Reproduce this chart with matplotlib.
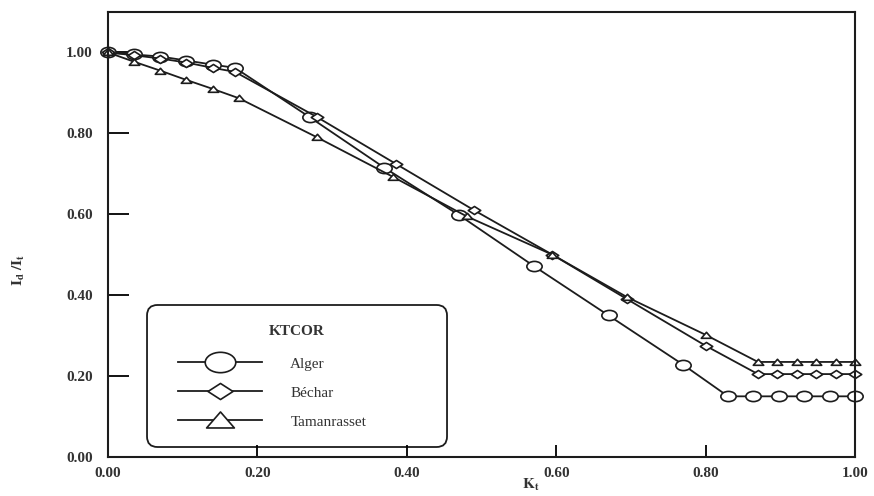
import numpy as np
import matplotlib.pyplot as plt
from matplotlib.path import Path
from matplotlib.patches import FancyBboxPatch

plt.rcParams['font.family'] = ['Liberation Serif', 'DejaVu Serif']
plt.rcParams['mathtext.fontset'] = 'stix'

# donnees
kt_alger = [0.0, 0.035, 0.07, 0.105, 0.14, 0.17, 0.27, 0.37, 0.47, 0.57, 0.67, 0.77,
            0.83, 0.864, 0.898, 0.932, 0.966, 1.0]
id_alger = [1.0, 0.995, 0.99, 0.98, 0.97, 0.962, 0.84, 0.715, 0.598, 0.472, 0.35, 0.228,
            0.15, 0.15, 0.15, 0.15, 0.15, 0.15]

kt_bechar = [0.0, 0.035, 0.07, 0.105, 0.14, 0.17, 0.28, 0.385, 0.49, 0.595, 0.695, 0.80,
             0.87, 0.896, 0.922, 0.948, 0.974, 1.0]
id_bechar = [1.0, 0.993, 0.985, 0.975, 0.962, 0.952, 0.84, 0.725, 0.61, 0.5, 0.39, 0.275,
             0.205, 0.205, 0.205, 0.205, 0.205, 0.205]

kt_taman = [0.0, 0.035, 0.07, 0.105, 0.14, 0.175, 0.28, 0.382, 0.48, 0.595, 0.695, 0.80,
            0.87, 0.896, 0.922, 0.948, 0.974, 1.0]
id_taman = [1.0, 0.977, 0.955, 0.932, 0.91, 0.887, 0.79, 0.692, 0.595, 0.5, 0.395, 0.302,
            0.235, 0.235, 0.235, 0.235, 0.235, 0.235]

noms = ['Alger', 'Béchar', 'Tamanrasset']
yticks = [0.0, 0.2, 0.4, 0.6, 0.8, 1.0]
xticks = [0.0, 0.2, 0.4, 0.6, 0.8, 1.0]

# marqueurs un peu ecrases comme sur l'original
cercle = Path.unit_circle()
ellipse = Path(cercle.vertices * np.array([1.5, 1.0]), cercle.codes)
losange = Path([(-1.4, 0), (0, 0.9), (1.4, 0), (0, -0.9), (-1.4, 0)], closed=True)
triangle = Path([(-1.3, -0.7), (1.3, -0.7), (0, 0.8), (-1.3, -0.7)], closed=True)

fig = plt.figure(figsize=(8.74, 4.96), dpi=100)
ax = fig.add_axes([0.1236, 0.0786, 0.8547, 0.8972])

c = '#1c1c1c'
gris = '#333333'
ax.plot(kt_alger, id_alger, color=c, lw=1.3, marker=ellipse, ms=11, mfc='white',
        mec=c, mew=1.2, label=noms[0], clip_on=False)
ax.plot(kt_bechar, id_bechar, color=c, lw=1.3, marker=losange, ms=9, mfc='white',
        mec=c, mew=1.2, label=noms[1], clip_on=False)
ax.plot(kt_taman, id_taman, color=c, lw=1.3, marker=triangle, ms=7.5, mfc='white',
        mec=c, mew=1.2, label=noms[2], clip_on=False)

ax.set_xlim(0, 1.0)
ax.set_ylim(0, 1.10)
ax.set_xticks(xticks)
ax.set_yticks(yticks)
ax.set_xticklabels([f'{v:.2f}' for v in xticks], fontweight='bold', fontsize=11, color=gris)
ax.set_yticklabels([f'{v:.2f}' for v in yticks], fontweight='bold', fontsize=11, color=gris)
ax.tick_params(axis='y', direction='in', length=15, width=1.3, pad=11)
ax.tick_params(axis='x', direction='in', length=8.5, width=1.3, pad=7)
for s in ax.spines.values():
    s.set_linewidth(1.5)
    s.set_color(c)

ax.set_xlabel(r'$\mathbf{K_t}$', fontsize=11, color=gris)
ax.xaxis.set_label_coords(0.566, -0.045)
ax.set_ylabel(r'$\mathbf{I_d\ /I_t}$', fontsize=11, color=gris)
ax.yaxis.set_label_coords(-0.108, 0.42)

# cadre arrondi de la legende
cadre = FancyBboxPatch((0.0522, 0.0225), 0.4016, 0.3191, transform=ax.transAxes,
                       boxstyle='round,pad=0,rounding_size=0.014', mutation_aspect=747 / 445,
                       facecolor='white', edgecolor=c, linewidth=1.3, zorder=1)
ax.add_patch(cadre)
ax.text(0.253, 0.281, 'KTCOR', transform=ax.transAxes, ha='center', va='center',
        fontsize=11, fontweight='bold', color=gris, zorder=6)

leg = ax.legend(loc='upper left', bbox_to_anchor=(0.0937, 0.225), frameon=False,
                fontsize=11, handlelength=5.5, handletextpad=1.85, labelspacing=1.0,
                borderpad=0, borderaxespad=0)
leg.set_zorder(7)
for h, ms in zip(leg.legend_handles, [22, 18, 20]):
    h.set_markersize(ms)
for t in leg.get_texts():
    t.set_color(gris)

fig.savefig('out.png', dpi=100)
